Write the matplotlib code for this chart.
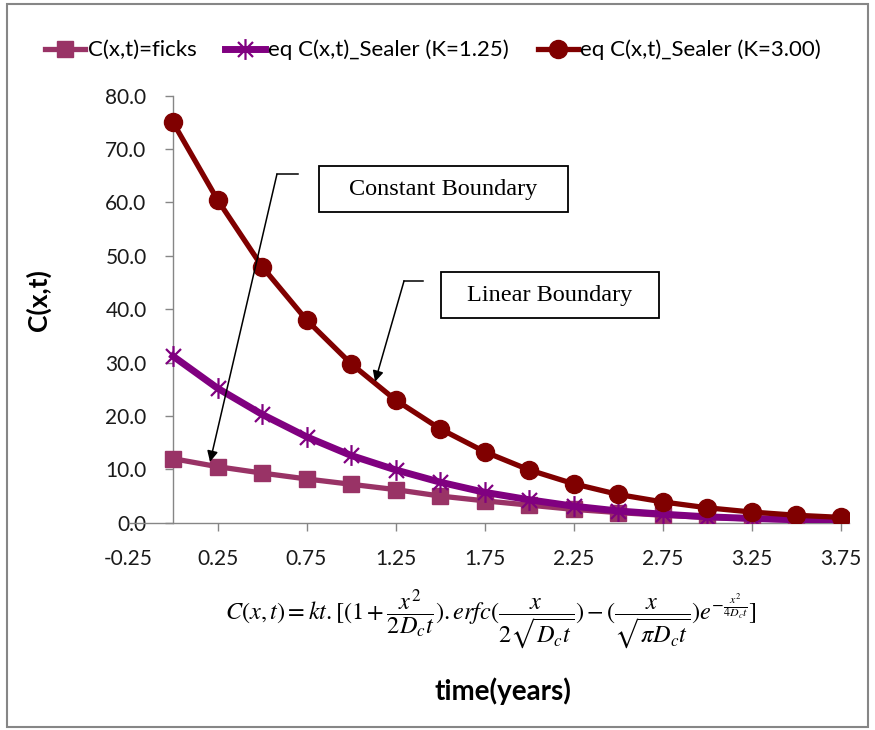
import matplotlib
matplotlib.use("Agg")
import matplotlib.pyplot as plt
from matplotlib.path import Path
from matplotlib.patches import Rectangle
import numpy as np

# ---------------- data ----------------
time_years = [0.0, 0.25, 0.5, 0.75, 1.0, 1.25, 1.5, 1.75, 2.0, 2.25, 2.5, 2.75, 3.0, 3.25, 3.5, 3.75]
c_ficks = [12.0, 10.5, 9.3, 8.2, 7.2, 6.2, 5.0, 4.1, 3.3, 2.5, 1.9, 1.4, 1.0, 0.7, 0.5, 0.35]
c_sealer_125 = [31.2, 25.2, 20.3, 16.1, 12.6, 9.9, 7.6, 5.7, 4.3, 3.1, 2.2, 1.6, 1.1, 0.8, 0.55, 0.4]
c_sealer_300 = [75.0, 60.5, 48.0, 38.0, 29.8, 23.0, 17.6, 13.3, 9.9, 7.3, 5.3, 3.9, 2.8, 2.0, 1.4, 1.0]

series_labels = ["C(x,t)=ficks", "eq C(x,t)_Sealer (K=1.25)", "eq C(x,t)_Sealer (K=3.00)"]
x_tick_values = [-0.25, 0.25, 0.75, 1.25, 1.75, 2.25, 2.75, 3.25, 3.75]
y_tick_values = [0, 10, 20, 30, 40, 50, 60, 70, 80]
x_label = "time(years)"
y_label = "C(x,t)"
box_texts = ["Constant Boundary", "Linear Boundary"]

# ---------------- figure ----------------
W, H = 875, 730
fig = plt.figure(figsize=(W / 100, H / 100), dpi=100)
plt.rcParams['mathtext.fontset'] = 'stix'

def px2fig(x, y):
    return x / W, 1 - y / H

ax_left, ax_right = 128.5, 849.4
ax_top, ax_bottom = 95.7, 522.7
ax = fig.add_axes([ax_left / W, 1 - ax_bottom / H, (ax_right - ax_left) / W, (ax_bottom - ax_top) / H])
ax.set_xlim(-0.25, 3.8)
ax.set_ylim(0, 80)
ax.patch.set_alpha(0)

gray = "#868686"
for s in ["top", "right"]:
    ax.spines[s].set_visible(False)
ax.spines["left"].set_position(("data", 0))
ax.spines["left"].set_color(gray)
ax.spines["bottom"].set_color(gray)
ax.spines["left"].set_linewidth(1.0)
ax.spines["bottom"].set_linewidth(1.0)

ax.set_yticks(y_tick_values)
ax.set_yticklabels([f"{v:.1f}" for v in y_tick_values])
ax.set_xticks(x_tick_values)
ax.set_xticklabels([f"{v:.2f}" for v in x_tick_values])
ax.tick_params(axis="both", direction="out", color=gray, length=6, width=1,
               labelsize=15, labelcolor="#1a1a1a")
ax.tick_params(axis="y", pad=13)
ax.tick_params(axis="x", pad=13)
ax.xaxis.get_major_ticks()[0].tick1line.set_visible(False)
for lab in ax.get_xticklabels() + ax.get_yticklabels():
    lab.set_fontfamily("Lato")

# asterisk marker: vertical bar + X
ast = Path([(0, -1), (0, 1), (-0.72, -0.72), (0.72, 0.72), (-0.72, 0.72), (0.72, -0.72)],
           [Path.MOVETO, Path.LINETO, Path.MOVETO, Path.LINETO, Path.MOVETO, Path.LINETO])

ax.plot(time_years, c_ficks, color="#993366", lw=3.8, marker="s", ms=11,
        markerfacecolor="#993366", markeredgecolor="#993366", label=series_labels[0], zorder=3,
        solid_joinstyle="round")
ax.plot(time_years, c_sealer_125, color="#800080", lw=5, marker=ast, ms=15, mew=1.6,
        markerfacecolor="none", markeredgecolor="#800080", label=series_labels[1], zorder=4,
        solid_joinstyle="round")
ax.plot(time_years, c_sealer_300, color="#800000", lw=3.8, marker="o", ms=13,
        markerfacecolor="#800000", markeredgecolor="#800000", label=series_labels[2], zorder=5,
        solid_joinstyle="round")

# labels
fig.text(38 / W, 1 - 300 / H, y_label, rotation=90, ha="center", va="center",
         fontsize=19, fontweight="bold", family="Lato")
fig.text(503 / W, 1 - 691 / H, x_label, ha="center", va="center",
         fontsize=20, fontweight="bold", family="Lato")

# formula
formula = (r"$C(x,t) = kt.[(1+\dfrac{x^2}{2D_c t}).erfc(\dfrac{x}{2\sqrt{D_c t}})"
           r" - (\dfrac{x}{\sqrt{\pi D_c t}})e^{-\frac{x^2}{4D_c t}}]$")
fig.text(491 / W, 1 - 620 / H, formula, ha="center", va="center", fontsize=17.5)

# legend
leg = fig.legend(loc="center", bbox_to_anchor=(0.495, 1 - 50 / H), ncol=3, frameon=False,
                 handlelength=1.8, handletextpad=0.12, columnspacing=1.3,
                 prop={"family": "Lato", "size": 16})

# annotation boxes
def box(x0, y0, x1, y1, text):
    fx0, fy1 = px2fig(x0, y0)
    fx1, fy0 = px2fig(x1, y1)
    fig.patches.append(Rectangle((fx0, fy0), fx1 - fx0, fy1 - fy0, transform=fig.transFigure,
                                 fill=False, edgecolor="black", lw=1.3))
    fig.text((fx0 + fx1) / 2, (fy0 + fy1) / 2, text, ha="center", va="center",
             fontsize=17.5, family="Liberation Serif")

box(319, 166, 568, 212, box_texts[0])
box(441, 272, 659, 318, box_texts[1])

# leader arrows (data coordinates)
def leader(tip, corner, end):
    ax.plot([corner[0], end[0]], [corner[1], end[1]], color="black", lw=1.1, zorder=10, clip_on=False)
    ax.annotate("", xy=tip, xytext=corner, zorder=10,
                arrowprops=dict(arrowstyle="-|>", color="black", lw=1.1, mutation_scale=16,
                                shrinkA=0, shrinkB=0))

leader((0.208, 11.4), (0.584, 65.3), (0.702, 65.3))
leader((1.135, 26.4), (1.298, 45.3), (1.403, 45.3))

# outer border
fig.patches.append(Rectangle((7 / W, 1 - 727 / H), (868 - 7) / W, (727 - 4) / H,
                             transform=fig.transFigure, fill=False, edgecolor=gray, lw=1.5))

fig.savefig("out.png", dpi=100, facecolor="white")
